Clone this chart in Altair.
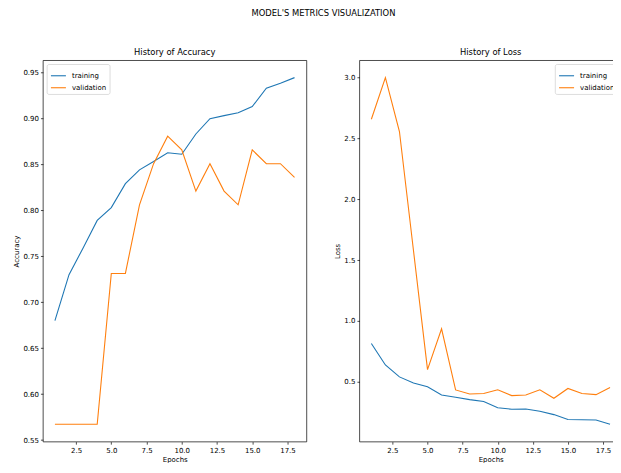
import altair as alt
import pandas as pd

FONT = "DejaVu Sans"

epochs = list(range(1, 19))
series_names = ["training", "validation"]
series_colors = ["#1f77b4", "#ff7f0e"]

train_acc = [0.680, 0.730, 0.759, 0.789, 0.803, 0.829, 0.844, 0.853, 0.8626, 0.861,
             0.883, 0.8997, 0.903, 0.906, 0.9128, 0.9327, 0.9383, 0.9443]
val_acc = [0.5672, 0.5672, 0.5672, 0.5672, 0.7313, 0.7313, 0.8060, 0.8507, 0.8806, 0.8657,
           0.8209, 0.8507, 0.8209, 0.8060, 0.8657, 0.8507, 0.8507, 0.8358]

train_loss = [0.814, 0.637, 0.539, 0.488, 0.458, 0.390, 0.371, 0.352, 0.337, 0.285,
              0.273, 0.275, 0.256, 0.229, 0.189, 0.186, 0.184, 0.149]
val_loss = [2.658, 3.000, 2.557, 1.578, 0.599, 0.934, 0.432, 0.398, 0.403, 0.433,
            0.385, 0.390, 0.433, 0.363, 0.444, 0.403, 0.393, 0.452]

x_ticks = [2.5, 5.0, 7.5, 10.0, 12.5, 15.0, 17.5]
acc_ticks = [0.55, 0.60, 0.65, 0.70, 0.75, 0.80, 0.85, 0.90, 0.95]
loss_ticks = [0.5, 1.0, 1.5, 2.0, 2.5, 3.0]


def long_df(train, val):
    return pd.DataFrame({
        "epoch": epochs + epochs,
        "value": train + val,
        "series": [series_names[0]] * len(epochs) + [series_names[1]] * len(epochs),
    })


def padded(vals):
    lo, hi = min(vals), max(vals)
    m = (hi - lo) * 0.05
    return [lo - m, hi + m]


def panel(df, title, ytitle, yticks, yfmt, orient, width):
    return alt.Chart(
        df,
        title=alt.TitleParams(title, font=FONT, fontSize=8.4, fontWeight="normal",
                              color="black", offset=4),
    ).mark_line(strokeWidth=1.1, clip=True).encode(
        x=alt.X("epoch:Q",
                scale=alt.Scale(domain=padded(epochs), nice=False, zero=False),
                axis=alt.Axis(values=x_ticks, format=".1f", title="Epochs", titlePadding=2)),
        y=alt.Y("value:Q",
                scale=alt.Scale(domain=padded(df["value"].tolist()), nice=False, zero=False),
                axis=alt.Axis(values=yticks, format=yfmt, title=ytitle, titlePadding=3)),
        color=alt.Color("series:N",
                        scale=alt.Scale(domain=series_names, range=series_colors),
                        legend=alt.Legend(title=None, orient=orient, offset=4,
                                          symbolType="stroke", symbolSize=225,
                                          symbolStrokeWidth=1.1, labelFont=FONT,
                                          labelFontSize=7, labelColor="black",
                                          labelOffset=5, rowPadding=-4, padding=3,
                                          strokeColor="#cccccc",
                                          fillColor="rgba(255,255,255,0.8)",
                                          cornerRadius=2)),
    ).properties(width=width, height=382)


left = panel(long_df(train_acc, val_acc), "History of Accuracy", "Accuracy",
             acc_ticks, ".2f", "top-left", 264)
right = panel(long_df(train_loss, val_loss), "History of Loss", "Loss",
              loss_ticks, ".1f", "top-right", 263)

chart = alt.hconcat(left, right, spacing=26).properties(
    title=alt.TitleParams("MODEL'S METRICS VISUALIZATION", font=FONT, fontSize=8.4,
                          fontWeight="normal", color="black", anchor="middle",
                          offset=30, dx=6),
    padding={"left": 4, "top": 0, "right": -10, "bottom": 0},
).configure_view(
    stroke="black", strokeWidth=0.7
).configure_axis(
    domain=False, grid=False, tickColor="black", tickSize=2.5, tickWidth=0.7,
    labelFont=FONT, labelFontSize=7, labelColor="black", labelPadding=2,
    titleFont=FONT, titleFontSize=7, titleFontWeight="normal", titleColor="black",
).configure_legend(
    strokeWidth=0.7
)

chart.save("out.html", embed_options={"renderer": "svg", "actions": False})
